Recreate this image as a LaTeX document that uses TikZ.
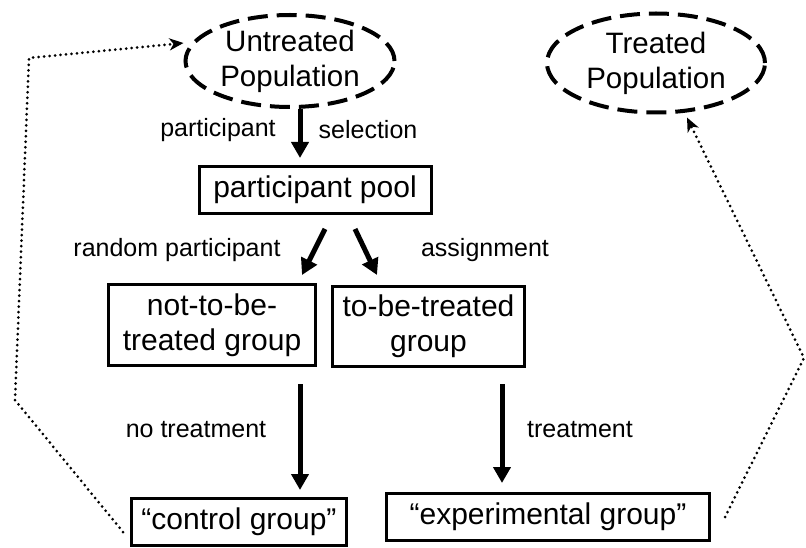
\documentclass[tikz,border=0pt]{standalone}
\usepackage{fontspec}
\setmainfont{Liberation Sans}
\usetikzlibrary{shapes,arrows.meta,positioning}
\tikzstyle{popul} = [draw,ellipse,line width=4pt,dash pattern=on 20pt off 9pt,inner sep=0,align=center,font=\fontsize{29.5}{35}\selectfont]
\tikzstyle{grp} = [draw,rectangle,line width=3pt,inner sep=0,align=center,font=\fontsize{30}{35}\selectfont]
\tikzstyle{flow} = [-{Triangle[length=16pt,width=17pt]},line width=5pt]
\tikzstyle{link} = [-{Stealth[length=14pt,width=12pt,inset=4pt]},line width=3pt,line cap=round,dash pattern=on 0pt off 5.5pt]
\tikzstyle{lbl} = [font=\fontsize{25}{30}\selectfont,inner sep=0]

\begin{document}
\begin{tikzpicture}[x=1pt,y=-1pt]
      \useasboundingbox (0,0) rectangle (806,548);
      % populations
      \node[popul,minimum width=209pt,minimum height=92pt] (untreated) at (290,61) {Untreated\\Population};
      \node[popul,minimum width=218pt,minimum height=99pt] (treated) at (656,63) {Treated\\Population};
      % groups
      \node[grp,minimum width=232pt,minimum height=47pt] (pool) at (315,190) {participant pool};
      \node[grp,minimum width=207pt,minimum height=81pt] (notgrp) at (212,325) {not-to-be-\\treated group};
      \node[grp,minimum width=192pt,minimum height=80pt] (togrp) at (428.5,326.5) {to-be-treated\\group};
      \node[grp,minimum width=215pt,minimum height=47pt] (control) at (239,522) {“control group”};
      \node[grp,minimum width=323pt,minimum height=47pt] (exper) at (548,517) {“experimental group”};
      % arrows
      \draw[flow] ([xshift=10pt]untreated.south) -- ([xshift=-15pt,yshift=7pt]pool.north);
      \draw[flow] ([xshift=10pt,yshift=-14pt]pool.south) -- ([xshift=90pt,yshift=8pt]notgrp.north);
      \draw[flow] ([xshift=40pt,yshift=-14pt]pool.south) -- ([xshift=-51.5pt,yshift=10pt]togrp.north);
      \draw[flow] ([xshift=88pt,yshift=-17pt]notgrp.south) -- ([xshift=61pt,yshift=7pt]control.north);
      \draw[flow] ([xshift=73.5pt,yshift=-16pt]togrp.south) -- ([xshift=-46pt,yshift=9pt]exper.north);
      % labels
      \node[lbl] (lsel1) at (218,130) {participant};
      \node[lbl] (lsel2) at (368,130) {selection};
      \node[lbl] (lasg1) at (177,250) {random participant};
      \node[lbl] (lasg2) at (485,250) {assignment};
      \node[lbl] (lno) at (196,430) {no treatment};
      \node[lbl] (ltr) at (580,430) {treatment};
      % dotted links
      \coordinate (lbend) at (15,400);
      \coordinate (ltop) at (29,58);
      \coordinate (rbend) at (804,358);
      \draw[link] ([xshift=-7pt,yshift=-10pt]control.west) -- (lbend) -- (ltop) -- ([yshift=18pt]untreated.west);
      \draw[link] ([xshift=14pt]exper.east) -- (rbend) -- ([xshift=31pt,yshift=-3pt]treated.south);
\end{tikzpicture}
\end{document}
